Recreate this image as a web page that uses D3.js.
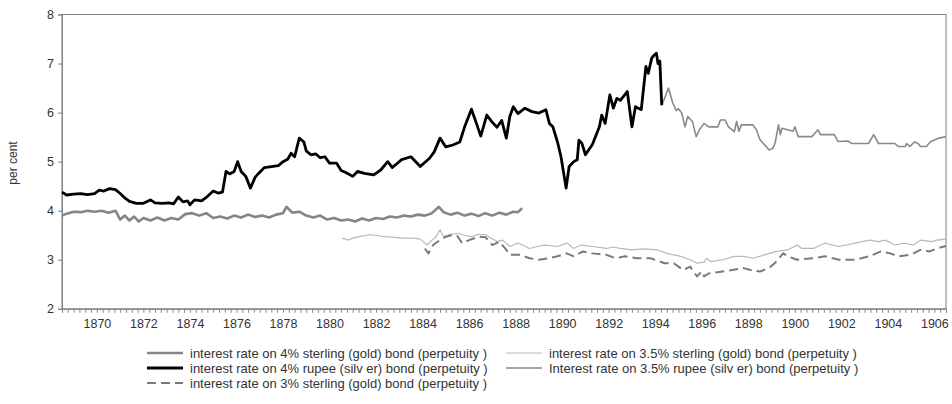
<!DOCTYPE html>
<html>
<head>
<meta charset="utf-8">
<script src="https://cdn.jsdelivr.net/npm/d3@7"></script>
<style>
  body { margin: 0; background: #fff; }
  svg { display: block; font-family: "Liberation Sans", Arial, sans-serif; }
</style>
</head>
<body>
<div id="chart"></div>
<script>
// [year, per cent]
const sterling4 = [
  [1868.5,3.90],[1868.7,3.94],[1869.0,3.98],[1869.3,3.97],[1869.6,4.00],[1869.9,3.98],[1870.2,4.00],[1870.5,3.96],
  [1870.8,4.00],[1871.0,3.82],[1871.2,3.90],[1871.4,3.80],[1871.6,3.88],[1871.8,3.78],[1872.0,3.85],[1872.3,3.80],
  [1872.6,3.86],[1872.9,3.80],[1873.2,3.85],[1873.5,3.82],[1873.8,3.93],[1874.1,3.95],[1874.4,3.90],[1874.7,3.95],
  [1875.0,3.85],[1875.3,3.88],[1875.6,3.84],[1875.9,3.90],[1876.2,3.86],[1876.5,3.92],[1876.8,3.87],[1877.1,3.90],
  [1877.4,3.86],[1877.7,3.92],[1878.0,3.95],[1878.15,4.08],[1878.4,3.96],[1878.7,3.98],[1879.0,3.90],[1879.3,3.86],
  [1879.6,3.90],[1879.9,3.82],[1880.2,3.85],[1880.5,3.80],[1880.8,3.82],[1881.1,3.78],[1881.4,3.84],[1881.7,3.80],
  [1882.0,3.85],[1882.3,3.83],[1882.6,3.88],[1882.9,3.86],[1883.2,3.90],[1883.5,3.88],[1883.8,3.92],[1884.1,3.90],
  [1884.4,3.95],[1884.7,4.08],[1884.9,3.97],[1885.2,3.92],[1885.5,3.96],[1885.8,3.90],[1886.1,3.94],[1886.4,3.89],
  [1886.7,3.95],[1887.0,3.90],[1887.3,3.96],[1887.6,3.92],[1887.9,3.98],[1888.1,3.97],[1888.28,4.05]
];

const rupee4 = [
  [1868.5,4.38],[1868.7,4.32],[1869.0,4.34],[1869.3,4.35],[1869.6,4.33],[1869.9,4.35],[1870.1,4.42],[1870.3,4.40],
  [1870.55,4.45],[1870.8,4.43],[1871.0,4.35],[1871.2,4.26],[1871.4,4.19],[1871.7,4.15],[1872.0,4.15],[1872.3,4.22],
  [1872.5,4.16],[1872.8,4.15],[1873.1,4.16],[1873.3,4.14],[1873.5,4.28],[1873.7,4.18],[1873.9,4.20],[1874.0,4.12],
  [1874.2,4.22],[1874.5,4.20],[1874.7,4.27],[1875.0,4.40],[1875.2,4.36],[1875.4,4.38],[1875.55,4.80],[1875.7,4.75],
  [1875.9,4.80],[1876.05,5.00],[1876.2,4.80],[1876.4,4.70],[1876.6,4.46],[1876.8,4.68],[1876.95,4.76],[1877.2,4.88],
  [1877.5,4.90],[1877.8,4.92],[1878.0,5.00],[1878.2,5.05],[1878.35,5.17],[1878.5,5.10],[1878.7,5.48],[1878.9,5.40],
  [1879.0,5.22],[1879.2,5.14],[1879.4,5.16],[1879.6,5.08],[1879.8,5.10],[1880.0,4.97],[1880.3,4.97],[1880.5,4.82],
  [1880.7,4.78],[1881.0,4.70],[1881.2,4.80],[1881.5,4.76],[1881.9,4.73],[1882.2,4.83],[1882.5,5.00],[1882.7,4.88],
  [1883.1,5.04],[1883.5,5.10],[1883.9,4.90],[1884.3,5.07],[1884.5,5.20],[1884.75,5.48],[1885.0,5.30],[1885.3,5.34],
  [1885.6,5.40],[1885.8,5.70],[1886.1,6.07],[1886.3,5.80],[1886.5,5.52],[1886.76,5.95],[1887.0,5.80],[1887.2,5.70],
  [1887.4,5.84],[1887.6,5.48],[1887.75,5.92],[1887.9,6.12],[1888.1,5.98],[1888.4,6.09],[1888.7,6.02],[1889.0,5.99],
  [1889.3,6.06],[1889.45,5.78],[1889.6,5.71],[1889.8,5.40],[1889.95,5.10],[1890.17,4.46],[1890.3,4.90],[1890.5,5.00],
  [1890.65,5.04],[1890.72,5.44],[1890.85,5.37],[1891.0,5.14],[1891.3,5.35],[1891.6,5.71],[1891.7,5.95],[1891.85,5.78],
  [1892.05,6.36],[1892.2,6.09],[1892.35,6.29],[1892.5,6.25],[1892.8,6.43],[1893.0,5.71],[1893.15,6.12],[1893.4,6.06],
  [1893.6,6.94],[1893.7,6.80],[1893.85,7.11],[1893.95,7.17],[1894.05,7.21],[1894.12,7.00],[1894.2,7.05],[1894.28,6.15]
];

const sterling3 = [
  [1884.1,3.23],[1884.25,3.13],[1884.45,3.30],[1884.75,3.40],[1885.0,3.47],[1885.3,3.51],[1885.5,3.48],[1885.7,3.34],
  [1886.0,3.40],[1886.4,3.47],[1886.7,3.46],[1887.0,3.30],[1887.3,3.37],[1887.6,3.20],[1887.76,3.10],[1888.2,3.10],
  [1888.6,3.03],[1889.0,3.00],[1889.4,3.03],[1889.8,3.07],[1890.2,3.13],[1890.5,3.07],[1890.9,3.17],[1891.3,3.13],
  [1891.9,3.10],[1892.3,3.03],[1892.7,3.07],[1893.2,3.03],[1893.8,3.03],[1894.4,2.93],[1894.8,2.93],[1895.2,2.79],
  [1895.5,2.86],[1895.8,2.66],[1896.0,2.76],[1896.1,2.66],[1896.3,2.72],[1896.9,2.76],[1897.3,2.79],[1897.8,2.83],
  [1898.1,2.79],[1898.5,2.76],[1898.9,2.83],[1899.2,2.96],[1899.5,3.13],[1899.7,3.07],[1900.1,3.00],[1900.8,3.03],
  [1901.3,3.07],[1901.9,3.00],[1902.6,3.00],[1903.2,3.07],[1903.7,3.17],[1904.1,3.13],[1904.45,3.07],[1904.9,3.10],
  [1905.1,3.13],[1905.4,3.20],[1905.8,3.17],[1906.1,3.23],[1906.5,3.28]
];

const sterling35 = [
  [1880.55,3.44],[1880.8,3.40],[1881.0,3.44],[1881.3,3.47],[1881.7,3.51],[1882.0,3.50],[1882.3,3.47],[1882.7,3.46],
  [1883.1,3.44],[1883.6,3.44],[1883.9,3.42],[1884.2,3.30],[1884.4,3.40],[1884.55,3.45],[1884.75,3.61],[1884.9,3.47],
  [1885.2,3.52],[1885.5,3.54],[1885.8,3.50],[1886.1,3.47],[1886.4,3.52],[1886.7,3.51],[1886.95,3.44],[1887.2,3.37],
  [1887.45,3.40],[1887.76,3.27],[1888.1,3.34],[1888.6,3.23],[1889.0,3.28],[1889.3,3.30],[1889.8,3.27],[1890.2,3.34],
  [1890.5,3.23],[1890.8,3.30],[1891.3,3.27],[1891.9,3.23],[1892.2,3.26],[1892.5,3.23],[1893.0,3.20],[1893.5,3.22],
  [1894.1,3.20],[1894.5,3.13],[1895.1,3.07],[1895.5,3.00],[1895.8,2.93],[1896.1,2.95],[1896.2,3.03],[1896.4,2.96],
  [1896.9,3.00],[1897.4,3.07],[1897.8,3.07],[1898.2,3.03],[1898.7,3.10],[1899.2,3.17],[1899.7,3.20],[1900.1,3.30],
  [1900.3,3.23],[1900.8,3.23],[1901.3,3.34],[1901.9,3.27],[1902.6,3.34],[1903.2,3.40],[1903.6,3.37],[1903.9,3.40],
  [1904.3,3.30],[1904.7,3.34],[1905.1,3.30],[1905.4,3.40],[1905.9,3.37],[1906.1,3.40],[1906.5,3.42]
];

const rupee35 = [
  [1894.28,6.15],[1894.45,6.35],[1894.57,6.50],[1894.75,6.20],[1894.9,6.04],[1895.0,6.08],[1895.14,5.99],[1895.28,5.71],
  [1895.4,5.92],[1895.6,5.82],[1895.76,5.51],[1895.9,5.65],[1896.1,5.78],[1896.3,5.71],[1896.7,5.71],[1896.8,5.85],
  [1897.0,5.85],[1897.15,5.71],[1897.4,5.61],[1897.5,5.82],[1897.6,5.62],[1897.7,5.75],[1898.2,5.75],[1898.35,5.65],
  [1898.5,5.45],[1898.65,5.37],[1898.9,5.24],[1899.05,5.27],[1899.15,5.37],[1899.3,5.75],[1899.38,5.55],[1899.45,5.68],
  [1899.93,5.62],[1900.0,5.71],[1900.15,5.51],[1900.73,5.51],[1901.0,5.65],[1901.1,5.55],[1901.7,5.55],[1901.86,5.41],
  [1902.3,5.42],[1902.45,5.37],[1903.17,5.37],[1903.39,5.55],[1903.6,5.37],[1904.3,5.37],[1904.45,5.31],[1904.75,5.31],
  [1904.8,5.37],[1904.95,5.31],[1905.15,5.40],[1905.3,5.37],[1905.4,5.31],[1905.65,5.31],[1905.85,5.41],[1906.2,5.48],
  [1906.5,5.51]
];

const yTicks = [2, 3, 4, 5, 6, 7, 8];
const xLabelYears = d3.range(1870, 1907, 2);

const series = [
  { name: "interest rate on 4% sterling (gold) bond (perpetuity )", data: sterling4, color: "#858585", width: 2.6, dash: null, col: 0, row: 0 },
  { name: "interest rate on 4% rupee (silv er) bond  (perpetuity )", data: rupee4, color: "#000", width: 2.8, dash: null, col: 0, row: 1 },
  { name: "interest rate on 3% sterling (gold) bond (perpetuity )", data: sterling3, color: "#7a7a7a", width: 2, dash: "9,5", col: 0, row: 2 },
  { name: "interest rate on 3.5% sterling (gold) bond (perpetuity )", data: sterling35, color: "#b8b8b8", width: 1.2, dash: null, col: 1, row: 0 },
  { name: "Interest rate on 3.5% rupee (silv er) bond (perpetuity )", data: rupee35, color: "#8a8a8a", width: 1.6, dash: null, col: 1, row: 1 }
];

const W = 952, H = 404;
const svg = d3.select("#chart").append("svg").attr("width", W).attr("height", H);

const x = d3.scaleLinear().domain([1868.5, 1906.5]).range([62, 946]);
const y = d3.scaleLinear().domain([2, 8]).range([308.8, 14.5]);

// frame
svg.append("rect")
  .attr("x", 62).attr("y", 14.5)
  .attr("width", 946 - 62).attr("height", 308.8 - 14.5)
  .attr("fill", "none").attr("stroke", "#808080").attr("stroke-width", 1);

// y axis
const yAxis = svg.append("g")
  .attr("transform", "translate(62,0)")
  .call(d3.axisLeft(y).tickValues(yTicks).tickSize(4).tickPadding(4).tickFormat(d3.format("d")));
yAxis.select(".domain").attr("stroke", "#808080");
yAxis.selectAll(".tick line").attr("stroke", "#808080");
yAxis.selectAll("text").attr("font-size", 12.5).attr("fill", "#333").attr("font-family", "Liberation Sans, Arial, sans-serif");

// x axis: quarterly minor ticks, labels every 2 years
const quarters = d3.range(1868.5, 1906.51, 0.25);
const xAxis = svg.append("g")
  .attr("transform", "translate(0,308.8)")
  .call(d3.axisBottom(x).tickValues(quarters).tickSize(4).tickFormat(""));
xAxis.select(".domain").attr("stroke", "#808080");
xAxis.selectAll(".tick line").attr("stroke", "#8a8a8a");

const xLab = svg.append("g")
  .attr("transform", "translate(0,308.8)")
  .call(d3.axisBottom(x).tickValues(xLabelYears).tickSize(0).tickPadding(10).tickFormat(d3.format("d")));
xLab.select(".domain").remove();
xLab.selectAll("text").attr("font-size", 12.5).attr("fill", "#333").attr("font-family", "Liberation Sans, Arial, sans-serif");

svg.append("text")
  .attr("transform", "translate(17,163) rotate(-90)")
  .attr("text-anchor", "middle")
  .attr("font-size", 12)
  .attr("fill", "#333")
  .text("per cent");

// lines
const line = d3.line().x(d => x(d[0])).y(d => y(d[1]));
const order = [3, 2, 0, 4, 1];
order.forEach(i => {
  const s = series[i];
  svg.append("path")
    .datum(s.data)
    .attr("d", line)
    .attr("fill", "none")
    .attr("stroke", s.color)
    .attr("stroke-width", s.width)
    .attr("stroke-linejoin", "round")
    .attr("stroke-dasharray", s.dash);
});

// legend
const colX = [147, 506];
const rowY = [353, 368, 383];
series.forEach(s => {
  const g = svg.append("g").attr("transform", `translate(${colX[s.col]},${rowY[s.row]})`);
  g.append("line")
    .attr("x1", 0).attr("x2", 36).attr("y1", 0).attr("y2", 0)
    .attr("stroke", s.color).attr("stroke-width", s.width)
    .attr("stroke-dasharray", s.dash);
  g.append("text")
    .attr("x", 43).attr("y", 4.5)
    .attr("font-size", 13)
    .attr("fill", "#333")
    .text(s.name);
});
</script>
</body>
</html>
